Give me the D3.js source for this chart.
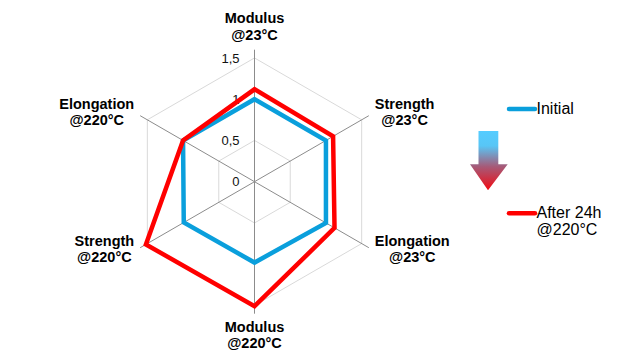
<!DOCTYPE html>
<html>
<head>
<meta charset="utf-8">
<script src="https://cdn.jsdelivr.net/npm/d3@7"></script>
<style>
  body { margin: 0; background: #fff; }
  svg { display: block; font-family: "Liberation Sans", Arial, sans-serif; }
</style>
</head>
<body>
<div id="chart"></div>
<script>
// Data

const axisLabels = [
  ["Modulus", "@23°C"],
  ["Strength", "@23°C"],
  ["Elongation", "@23°C"],
  ["Modulus", "@220°C"],
  ["Strength", "@220°C"],
  ["Elongation", "@220°C"],
];
const initialValues = [1.0, 1.0, 1.0, 0.98, 0.99, 1.0];
const afterValues = [1.12, 1.1, 1.12, 1.51, 1.52, 1.0];
const tickValues = [0, 0.5, 1, 1.5];
const tickLabels = ["0", "0,5", "1", "1,5"];
const seriesNames = [["Initial"], ["After 24h", "@220°C"]];
const seriesColors = ["#0a9fdc", "#ff0000"];

// Core radar chart

const width = 633;
const height = 362;
const cx = 254.5;
const cy = 181.7;

const svg = d3
  .select("#chart")
  .append("svg")
  .attr("width", width)
  .attr("height", height);

const rScale = d3.scaleLinear().domain([0, 1.6]).range([0, 132]);
const angle = (i) => (i * 2 * Math.PI) / axisLabels.length;

const g = svg.append("g").attr("transform", `translate(${cx},${cy})`);

// grid hexagons
const gridLine = d3
  .lineRadial()
  .angle((d, i) => angle(i))
  .radius((d) => rScale(d))
  .curve(d3.curveLinearClosed);

g.selectAll(".grid")
  .data(tickValues.filter((t) => t > 0))
  .enter()
  .append("path")
  .attr("class", "grid")
  .attr("d", (t) => gridLine(axisLabels.map(() => t)))
  .attr("fill", "none")
  .attr("stroke", "#d9d9d9")
  .attr("stroke-width", 1);

// spokes
g.selectAll(".spoke")
  .data(axisLabels)
  .enter()
  .append("line")
  .attr("class", "spoke")
  .attr("x1", 0)
  .attr("y1", 0)
  .attr("x2", (d, i) => rScale(1.6) * Math.sin(angle(i)))
  .attr("y2", (d, i) => -rScale(1.6) * Math.cos(angle(i)))
  .attr("stroke", "#8c8c8c")
  .attr("stroke-width", 1);

// tick labels
g.selectAll(".tick")
  .data(tickValues)
  .enter()
  .append("text")
  .attr("class", "tick")
  .attr("x", -15)
  .attr("y", (d) => -rScale(d))
  .attr("dy", "0.36em")
  .attr("text-anchor", "end")
  .style("font-size", "13px")
  .style("fill", "#111")
  .text((d, i) => tickLabels[i]);

// series
const seriesLine = d3
  .lineRadial()
  .angle((d, i) => angle(i))
  .radius((d) => rScale(d))
  .curve(d3.curveLinearClosed);

g.selectAll(".series")
  .data([initialValues, afterValues])
  .enter()
  .append("path")
  .attr("class", "series")
  .attr("d", seriesLine)
  .attr("fill", "none")
  .attr("stroke", (d, i) => seriesColors[i])
  .attr("stroke-width", 4.5)
  .attr("stroke-linejoin", "miter");

// axis labels
const labels = g
  .selectAll(".axis-label")
  .data(axisLabels)
  .enter()
  .append("text")
  .attr("class", "axis-label")
  .style("font-size", "14.5px")
  .style("font-weight", "bold")
  .style("fill", "#000")
  .attr("text-anchor", "middle");

labels.each(function (lines, i) {
  const a = angle(i);
  const ex = rScale(1.6) * Math.sin(a);
  const ey = -rScale(1.6) * Math.cos(a);
  const ux = Math.sin(a);
  const uy = -Math.cos(a);
  const text = d3.select(this);
  const tmp = text.append("tspan").text(lines[0]);
  const w0 = tmp.node().getComputedTextLength();
  tmp.text(lines[1]);
  const w1 = tmp.node().getComputedTextLength();
  tmp.remove();
  const blockW = Math.max(w0, w1);
  let x = ex;
  let y;
  if (Math.abs(ux) < 0.01) {
    y = uy < 0 ? ey - 26.5 : ey + 18;
  } else {
    x = ex + Math.sign(ux) * (6 + blockW / 2);
    y = ey - 4.5 + 5 * uy;
  }
  lines.forEach((line, k) => {
    text
      .append("tspan")
      .attr("x", x)
      .attr("y", y + k * 16.6)
      .text(line);
  });
});

// Legend

const legend = svg.append("g");

const legendY = [109, 213.3];
seriesNames.forEach((lines, i) => {
  legend
    .append("line")
    .attr("x1", 509)
    .attr("x2", 535)
    .attr("y1", legendY[i])
    .attr("y2", legendY[i])
    .attr("stroke", seriesColors[i])
    .attr("stroke-width", 4.5)
    .attr("stroke-linecap", "round");
  const t = legend
    .append("text")
    .style("font-size", "16px")
    .style("fill", "#000");
  lines.forEach((line, k) => {
    t.append("tspan")
      .attr("x", 536.5)
      .attr("y", legendY[i] + 4.5 + k * 17.3)
      .text(line);
  });
});

// gradient arrow
const defs = svg.append("defs");
const grad = defs
  .append("linearGradient")
  .attr("id", "arrowGrad")
  .attr("x1", 0)
  .attr("y1", 0)
  .attr("x2", 0)
  .attr("y2", 1);
grad.append("stop").attr("offset", "0%").attr("stop-color", "#55ccff");
grad.append("stop").attr("offset", "25%").attr("stop-color", "#58c6f6");
grad.append("stop").attr("offset", "60%").attr("stop-color", "#a65a78");
grad.append("stop").attr("offset", "100%").attr("stop-color", "#f20a12");

legend
  .append("path")
  .attr(
    "d",
    "M478.5,131 L498.3,131 L498.3,164.3 L507.7,164.3 L488,190.3 L470,164.3 L478.5,164.3 Z"
  )
  .attr("fill", "url(#arrowGrad)");
</script>
</body>
</html>
